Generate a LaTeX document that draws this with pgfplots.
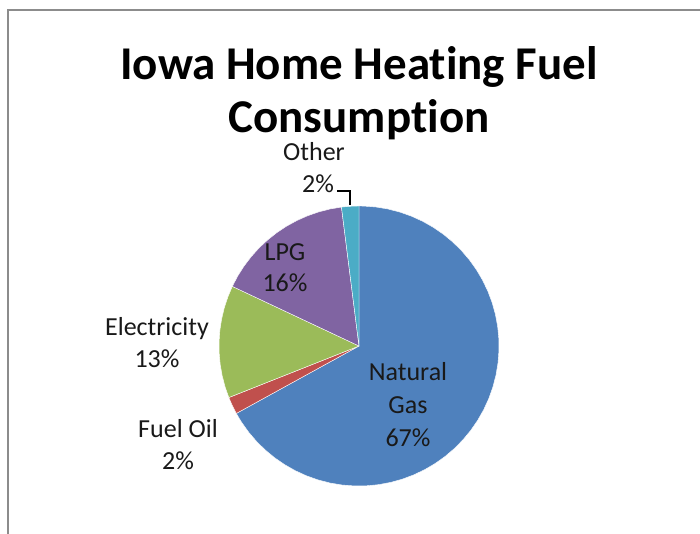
\documentclass[border=0pt]{standalone}
\usepackage{pgfplots}
\pgfplotsset{compat=1.18}
\usepackage{fontspec}
\setmainfont[Ligatures=NoCommon]{Carlito}
\definecolor{cBlue}{HTML}{4F81BD}
\definecolor{cRed}{HTML}{C0504D}
\definecolor{cGreen}{HTML}{9BBB59}
\definecolor{cPurple}{HTML}{8064A2}
\definecolor{cAqua}{HTML}{4BACC6}
\definecolor{frameGray}{HTML}{8C8C8C}
\begin{document}
\begin{tikzpicture}
\path[use as bounding box] (0,0) rectangle (700pt,533pt);
\fill[white] (0,0) rectangle (700pt,533pt);
% Shares: Natural Gas 67, Fuel Oil 2, Electricity 13, LPG 16, Other 2 (percent)
% slices start at 12 o'clock, clockwise; angles = 3.6 * cumulative percent
\begin{axis}[at={(359pt,187pt)}, anchor=center, x=140pt, y=140pt,
  xmin=-1, xmax=1, ymin=-1, ymax=1, hide axis, clip=false, scale only axis]
% Natural Gas 67% : 90 -> -151.2
\addplot[fill=cBlue, draw=white, line width=0.4pt, data cs=polar] coordinates {
(0,0) (-151.2,1) (-147,1) (-142,1) (-137,1) (-132,1) (-127,1) (-122,1) (-117,1) (-112,1)
(-107,1) (-102,1) (-97,1) (-92,1) (-87,1) (-82,1) (-77,1) (-72,1) (-67,1) (-62,1)
(-57,1) (-52,1) (-47,1) (-42,1) (-37,1) (-32,1) (-27,1) (-22,1) (-17,1) (-12,1)
(-7,1) (-2,1) (3,1) (8,1) (13,1) (18,1) (23,1) (28,1) (33,1) (38,1) (43,1) (48,1)
(53,1) (58,1) (63,1) (68,1) (73,1) (78,1) (83,1) (88,1) (90,1)} -- cycle;
% Fuel Oil 2% : 201.6 -> 208.8
\addplot[fill=cRed, draw=white, line width=0.4pt, data cs=polar] coordinates {
(0,0) (201.6,1) (205.2,1) (208.8,1)} -- cycle;
% Electricity 13% : 154.8 -> 201.6
\addplot[fill=cGreen, draw=white, line width=0.4pt, data cs=polar] coordinates {
(0,0) (154.8,1) (159.48,1) (164.16,1) (168.84,1) (173.52,1) (178.2,1) (182.88,1)
(187.56,1) (192.24,1) (196.92,1) (201.6,1)} -- cycle;
% LPG 16% : 97.2 -> 154.8
\addplot[fill=cPurple, draw=white, line width=0.4pt, data cs=polar] coordinates {
(0,0) (97.2,1) (102,1) (106.8,1) (111.6,1) (116.4,1) (121.2,1) (126,1) (130.8,1)
(135.6,1) (140.4,1) (145.2,1) (150,1) (154.8,1)} -- cycle;
% Other 2% : 90 -> 97.2
\addplot[fill=cAqua, draw=white, line width=0.4pt, data cs=polar] coordinates {
(0,0) (90,1) (93.6,1) (97.2,1)} -- cycle;
\end{axis}
% title
\node[anchor=base, font=\fontsize{47}{56}\selectfont\bfseries] at (359pt,453pt) {Iowa Home Heating Fuel};
\node[anchor=base, font=\fontsize{47}{56}\selectfont\bfseries] at (359pt,400pt) {Consumption};
% labels
\begin{scope}[every node/.style={anchor=base, font=\fontsize{26}{32}\selectfont, text=black!90}]
\node at (314pt,372pt) {Other};
\node at (318pt,340pt) {2\%};
\node at (285pt,272pt) {LPG};
\node at (285pt,241pt) {16\%};
\node at (157pt,198pt) {Electricity};
\node at (157pt,166pt) {13\%};
\node at (178pt,96pt) {Fuel Oil};
\node at (178pt,64pt) {2\%};
\node at (408pt,153pt) {Natural};
\node at (408pt,120pt) {Gas};
\node at (408pt,87pt) {67\%};
\end{scope}
\draw[black, line width=1.5pt] (337pt,342pt) -- (350pt,342pt) -- (350pt,328pt);
\draw[frameGray, line width=2.2pt] (8pt,-5pt) -- (8pt,523pt) -- (705pt,523pt);
\end{tikzpicture}
\end{document}
